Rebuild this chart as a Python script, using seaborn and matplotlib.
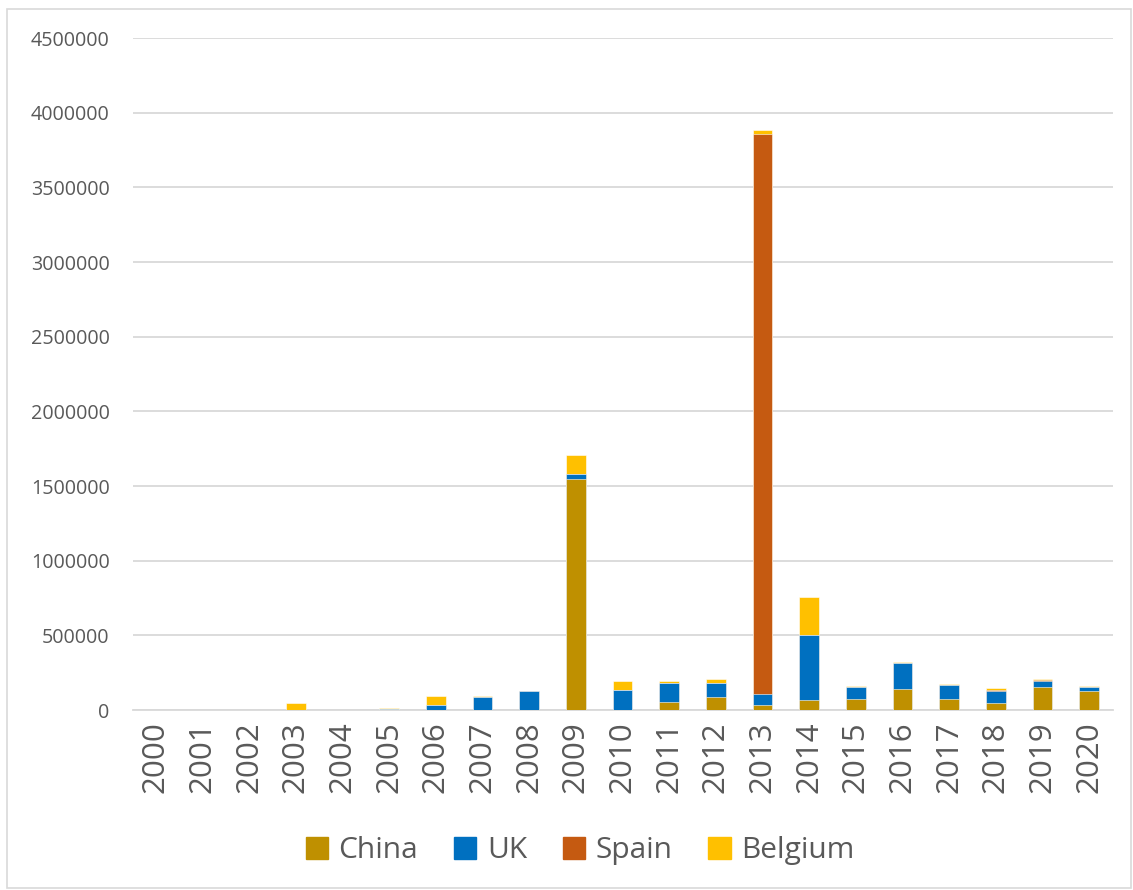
import matplotlib
matplotlib.use("Agg")
import matplotlib.pyplot as plt
import matplotlib.patches as mpatches
import numpy as np
import pandas as pd
import seaborn as sns

years = [str(y) for y in range(2000, 2021)]
china = [0, 0, 0, 0, 0, 0, 0, 0, 0, 1547000, 3000, 51000, 85000, 33000, 67000, 74000, 141000, 74000, 47000, 154000, 127000]
uk = [0, 0, 0, 0, 0, 5000, 33000, 89000, 125000, 33000, 130000, 127000, 96000, 76000, 438000, 83000, 174000, 92000, 80000, 42000, 27000]
spain = [0, 0, 0, 0, 0, 0, 0, 0, 0, 0, 0, 5000, 0, 3749000, 0, 0, 0, 0, 7000, 4000, 3000]
belgium = [0, 0, 0, 45000, 0, 8000, 60000, 5000, 4000, 127000, 60000, 11000, 25000, 27000, 252000, 6000, 9000, 7000, 13000, 5000, 3000]

series = ["China", "UK", "Spain", "Belgium"]
colors = ["#BF9000", "#0070C0", "#C55A11", "#FFC000"]

df = pd.DataFrame({"Year": years, "China": china, "UK": uk, "Spain": spain, "Belgium": belgium})
cum = df[series].cumsum(axis=1)

sns.set_theme(style="white")
plt.rcParams["font.family"] = ["Open Sans", "DejaVu Sans"]

fig = plt.figure(figsize=(11.33, 8.90), dpi=100)
ax = fig.add_axes([0.117, 0.2022, 0.865, 0.7551])

# stacked bars: draw cumulative totals from the top segment down
for name, color in reversed(list(zip(series, colors))):
    sns.barplot(x=df["Year"], y=cum[name], color=color, width=0.42,
                saturation=1, ax=ax, edgecolor="white", linewidth=0.4, zorder=3)

ax.set_ylim(0, 4500000)
ax.set_yticks(np.arange(0, 4500001, 500000))
ax.set_yticklabels([f"{int(v)}" for v in np.arange(0, 4500001, 500000)])
ax.yaxis.grid(True, color="#d9d9d9", linewidth=1.3, zorder=0)
ax.set_axisbelow(True)
for s in ["top", "right", "left"]:
    ax.spines[s].set_visible(False)
ax.spines["bottom"].set_color("#d9d9d9")
ax.spines["bottom"].set_linewidth(1.3)
ax.set_xlabel("")
ax.set_ylabel("")
ax.tick_params(axis="y", labelsize=14.2, colors="#595959", length=0, pad=16.5)
ax.tick_params(axis="x", labelsize=22.5, colors="#595959", length=0, pad=8, rotation=90)
ax.set_xlim(-0.5, len(years) - 0.5)

handles = [mpatches.Patch(color=c, label=n) for n, c in zip(series, colors)]
leg = fig.legend(handles=handles, loc="center", bbox_to_anchor=(0.512, 0.044), ncol=4,
                 frameon=False, fontsize=21.5, handlelength=0.75, handleheight=0.75,
                 handletextpad=0.35, columnspacing=1.2)
for t in leg.get_texts():
    t.set_color("#595959")

border = mpatches.Rectangle((7 / 1133, 2 / 890), 1124 / 1133, 879 / 890, transform=fig.transFigure,
                            fill=False, edgecolor="#d9d9d9", linewidth=1.2)
fig.patches.append(border)

fig.savefig("out.png", dpi=100, facecolor="white")
